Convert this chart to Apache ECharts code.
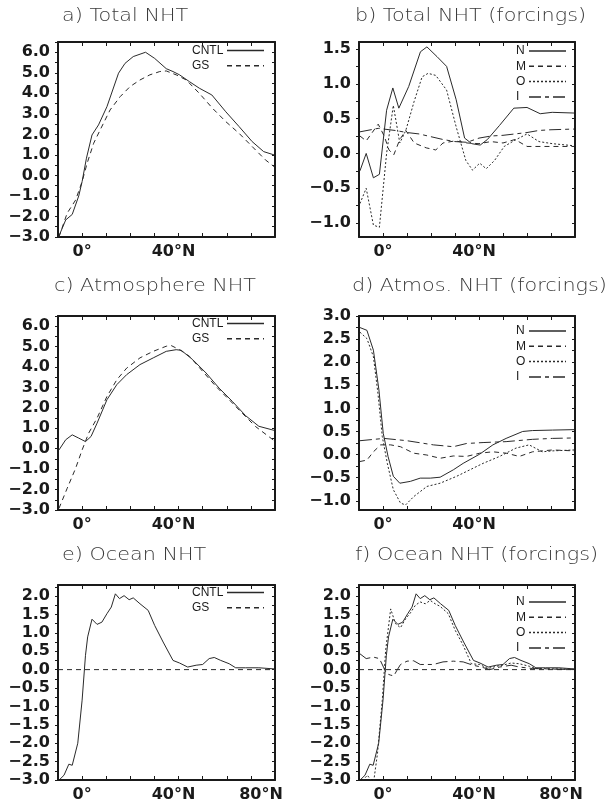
<!DOCTYPE html>
<html><head><meta charset="utf-8">
<script src="https://cdn.jsdelivr.net/npm/echarts@6/dist/echarts.min.js"></script>
<style>html,body{margin:0;padding:0;background:#fff}#c{width:615px;height:806px}</style>
</head><body><div id="c"></div>
<script>
// ---------- tick values / labels ----------
const xTickVals = [-10,0,10,20,30,40,50,60,70,80];
const xLabelsUpper = [0,40];
const xLabelsLower = [0,40,80];
const yLabelsAC = [-3,-2,-1,0,1,2,3,4,5,6];
const yTicksAC = [-3,-2.5,-2,-1.5,-1,-0.5,0,0.5,1,1.5,2,2.5,3,3.5,4,4.5,5,5.5,6,6.5];
const yLabelsB = [-1,-0.5,0,0.5,1,1.5];
const yTicksB = [-1,-0.75,-0.5,-0.25,0,0.25,0.5,0.75,1,1.25,1.5];
const yLabelsD = [-1,-0.5,0,0.5,1,1.5,2,2.5,3];
const yTicksD = [-1,-0.75,-0.5,-0.25,0,0.25,0.5,0.75,1,1.25,1.5,1.75,2,2.25,2.5,2.75,3];
const yLabelsEF = [-3,-2.5,-2,-1.5,-1,-0.5,0,0.5,1,1.5,2];
const yTicksEF = [-3,-2.75,-2.5,-2.25,-2,-1.75,-1.5,-1.25,-1,-0.75,-0.5,-0.25,0,0.25,0.5,0.75,1,1.25,1.5,1.75,2,2.25];

// ---------- a) Total NHT ----------
const totalCntl = [[-9.6,-2.95],[-6.8,-2.17],[-4.1,-1.9],[-1.4,-1.0],[0,-0.3],[1.8,0.84],[4.1,1.97],[6.8,2.46],[10.3,3.35],[15.1,4.98],[17.8,5.46],[21.2,5.79],[26.3,6.0],[30.1,5.7],[34.9,5.2],[37.7,5.06],[40.4,4.9],[44.5,4.57],[48.6,4.25],[53.8,3.92],[59.6,3.1],[65.1,2.38],[70.5,1.65],[75.3,1.16],[79.6,1.0]];
const totalGs = [[-9.6,-3.0],[-6.2,-1.84],[-2.7,-1.2],[0,-0.3],[2.1,0.6],[4.8,1.57],[7.5,2.22],[11.6,3.19],[15.8,3.84],[19.9,4.33],[24,4.65],[28.1,4.9],[32.2,5.06],[34.9,5.09],[39,4.9],[43.2,4.65],[48.6,4.0],[54.1,3.27],[59.6,2.62],[65.1,2.05],[70.5,1.41],[76,0.76],[79.6,0.43]];

// ---------- b) Total NHT (forcings) ----------
const totalN = [[-9.6,-0.25],[-7,0.0],[-4,-0.35],[-1.5,-0.3],[1.5,0.62],[4.1,0.94],[6.6,0.65],[10.7,0.96],[15.6,1.46],[18.3,1.53],[22.5,1.39],[26.5,1.25],[30.5,0.77],[34,0.22],[37,0.14],[40.5,0.12],[43.5,0.2],[48.5,0.4],[54.5,0.65],[60,0.66],[65.5,0.57],[70.5,0.59],[79.6,0.58]];
const totalM = [[-9.6,0.25],[-7,0.18],[-2,0.42],[0.5,0.25],[2.5,0.05],[4.5,-0.02],[7,0.2],[9.5,0.33],[13,0.15],[18,0.08],[22,0.05],[25,0.15],[30,0.18],[35,0.15],[40,0.14],[45,0.17],[50,0.15],[55,0.2],[60,0.1],[65,0.1],[70,0.1],[79.6,0.1]];
const totalO = [[-9.6,-0.72],[-7,-0.5],[-4,-1.03],[-1.5,-1.06],[1.5,0.0],[4.3,0.69],[7,0.15],[9.5,0.33],[13,0.75],[16.3,1.1],[18.8,1.15],[22,1.12],[26.5,0.91],[30.5,0.38],[34.5,-0.1],[37.3,-0.24],[40.3,-0.14],[43,-0.22],[46.5,-0.1],[50.5,0.1],[55,0.19],[60,0.28],[65,0.17],[70.6,0.14],[79.6,0.11]];
const totalI = [[-9.6,0.31],[-2,0.36],[5,0.33],[10,0.3],[15,0.28],[20,0.24],[25,0.2],[30,0.17],[35,0.16],[40,0.22],[45,0.25],[50,0.26],[55,0.28],[60,0.3],[65,0.33],[70,0.34],[79.6,0.35]];

// ---------- c) Atmosphere NHT ----------
const atmCntl = [[-9.6,-0.06],[-6.8,0.44],[-4.1,0.68],[-1.4,0.52],[1.4,0.35],[3.7,0.6],[6.2,1.25],[10.3,2.4],[14.4,3.14],[18.5,3.63],[24,4.12],[29.5,4.45],[34.9,4.77],[39,4.85],[41.1,4.82],[45.9,4.36],[51.4,3.71],[56.8,2.97],[62.3,2.32],[67.8,1.62],[73.3,1.1],[79.6,0.9]];
const atmGs = [[-9.6,-2.92],[-6.2,-1.94],[-2.7,-0.96],[0,-0.06],[2.7,0.76],[6.2,1.5],[10.3,2.56],[14.4,3.38],[18.5,3.95],[24,4.45],[29.5,4.77],[34.9,5.02],[37,5.05],[40.4,4.85],[44.5,4.53],[50,3.79],[55.5,3.05],[61,2.4],[66.4,1.74],[71.9,1.09],[79.6,0.4]];

// ---------- d) Atmos. NHT (forcings) ----------
const atmN = [[-9.6,2.75],[-6.7,2.69],[-4,2.26],[-1.7,1.4],[0.1,0.46],[2.1,-0.04],[4.3,-0.47],[7,-0.62],[11.4,-0.58],[15.5,-0.51],[19.7,-0.51],[23.8,-0.49],[29.3,-0.33],[33.4,-0.19],[40.3,0.01],[45.8,0.21],[51.3,0.35],[58.2,0.5],[62.3,0.52],[70.6,0.53],[79.6,0.54]];
const atmM = [[-9.6,-0.15],[-6.7,-0.12],[-4,0.06],[-1,0.21],[3.2,0.21],[7.3,0.17],[12.8,0.03],[18.3,-0.01],[23.8,-0.08],[29.3,-0.03],[34.8,-0.04],[40.3,0.03],[45.8,0.06],[51.3,0.03],[56.8,-0.04],[62.3,0.06],[70.6,0.1],[79.6,0.08]];
const atmO = [[-9.6,2.65],[-6.7,2.51],[-4,2.12],[-2.1,1.32],[-0.3,0.39],[1.8,-0.19],[4.3,-0.76],[7.3,-1.05],[9.4,-1.09],[12.8,-0.91],[18.3,-0.69],[23.8,-0.62],[30.7,-0.47],[36.2,-0.33],[41.7,-0.19],[48.6,-0.04],[55.4,0.14],[60.9,0.21],[66.4,0.06],[70.6,0.08],[79.6,0.1]];
const atmI = [[-9.6,0.3],[0.4,0.35],[10,0.3],[21,0.21],[29.3,0.17],[34.8,0.24],[41.7,0.26],[51.3,0.28],[62.3,0.33],[70.6,0.35],[79.6,0.36]];

// ---------- e) Ocean NHT ----------
const ocnCntl = [[-9.2,-2.98],[-7.5,-2.87],[-5.5,-2.57],[-4.1,-2.6],[-1.8,-2.0],[0,-0.83],[1.4,0.39],[2.3,0.89],[4.1,1.37],[6.2,1.23],[8.2,1.29],[10.3,1.52],[12.1,1.7],[13.8,2.06],[15.5,1.93],[17.4,2.01],[19.5,1.9],[21.2,1.95],[24,1.79],[27.4,1.61],[30.1,1.2],[33.6,0.75],[37.7,0.25],[40.4,0.18],[43.8,0.07],[47.3,0.12],[50,0.14],[52.7,0.3],[54.8,0.33],[57.5,0.25],[61,0.16],[63.7,0.05],[67.8,0.05],[73.3,0.05],[79.6,0.02]];
const ocnGs = [[-10,0],[80,0]];

// ---------- f) Ocean NHT (forcings) ----------
const ocnN = ocnCntl;
const ocnM = [[-10,0],[80,0]];
const ocnO = [[-9.6,-3.1],[-6.5,-2.87],[-4,-3.1],[-2.3,-2.28],[-0.3,-0.83],[1.1,0.52],[3.2,1.65],[5.2,1.25],[7.3,1.14],[9.4,1.38],[11.4,1.54],[13.5,1.75],[15.5,1.84],[17.6,1.79],[19.7,1.88],[21.7,1.79],[23.8,1.72],[27.2,1.52],[30,1.08],[33.4,0.66],[36.8,0.16],[40.3,0.14],[43.7,0.03],[47.2,0.09],[49.9,0.12],[53.4,0.18],[56.8,0.16],[61,0.09],[63.7,0.03],[79.6,0.01]];
const ocnI = [[-9.6,0.43],[-7,0.3],[-4,0.34],[-1.5,0.3],[0.2,0.07],[1.5,-0.11],[3.2,-0.15],[4.5,-0.17],[5.8,-0.02],[7.3,0.14],[10,0.23],[12.8,0.24],[15.5,0.14],[21,0.14],[25,0.21],[29.3,0.23],[33.4,0.21],[37.5,0.12],[41,0.07],[44.5,0],[48.6,0.07],[53.4,0.12],[56.8,0.07],[62.3,0.03],[79.6,0]];

// ---------- styling / layout ----------
const LINE_TYPES = { solid: 'solid', dashed: [5, 4], dotted: [2, 2], dashdot: [12, 4, 4, 4] };
const INK = '#1a1a1a';
const AX_FONT = 'DejaVu Sans';

const panels = [
  { title: 'a) Total NHT', tx: 62, ty: 17, grid: { left: 58, top: 42, width: 217, height: 195 }, yr: [-3, 6.5],
    yl: yLabelsAC, yt: yTicksAC, xl: xLabelsUpper,
    s: [['CNTL', totalCntl, 'solid'], ['GS', totalGs, 'dashed']], lg: { left: 192, top: 44.5, tw: 30, iw: 37 } },
  { title: 'b) Total NHT (forcings)', tx: 355, ty: 17, grid: { left: 359, top: 42, width: 216, height: 195 }, yr: [-1.2, 1.6],
    yl: yLabelsB, yt: yTicksB, xl: xLabelsUpper,
    s: [['N', totalN, 'solid'], ['M', totalM, 'dashed'], ['O', totalO, 'dotted'], ['I', totalI, 'dashdot']], lg: { left: 516, top: 45, tw: 8, iw: 37 } },
  { title: 'c) Atmosphere NHT', tx: 54, ty: 287, grid: { left: 58, top: 316, width: 217, height: 194 }, yr: [-3, 6.5],
    yl: yLabelsAC, yt: yTicksAC, xl: xLabelsUpper,
    s: [['CNTL', atmCntl, 'solid'], ['GS', atmGs, 'dashed']], lg: { left: 192, top: 317.5, tw: 30, iw: 37 } },
  { title: 'd) Atmos. NHT (forcings)', tx: 352, ty: 287, grid: { left: 359, top: 316, width: 216, height: 194 }, yr: [-1.2, 3.0],
    yl: yLabelsD, yt: yTicksD, xl: xLabelsUpper,
    s: [['N', atmN, 'solid'], ['M', atmM, 'dashed'], ['O', atmO, 'dotted'], ['I', atmI, 'dashdot']], lg: { left: 516, top: 325, tw: 8, iw: 37 } },
  { title: 'e) Ocean NHT', tx: 62, ty: 556, grid: { left: 58, top: 585, width: 217, height: 195 }, yr: [-3, 2.3],
    yl: yLabelsEF, yt: yTicksEF, xl: xLabelsLower,
    s: [['CNTL', ocnCntl, 'solid'], ['GS', ocnGs, 'dashed']], lg: { left: 192, top: 586.5, tw: 30, iw: 37 } },
  { title: 'f) Ocean NHT (forcings)', tx: 355, ty: 556, grid: { left: 359, top: 585, width: 216, height: 195 }, yr: [-3, 2.3],
    yl: yLabelsEF, yt: yTicksEF, xl: xLabelsLower,
    s: [['N', ocnN, 'solid'], ['M', ocnM, 'dashed'], ['O', ocnO, 'dotted'], ['I', ocnI, 'dashdot']], lg: { left: 516, top: 596, tw: 8, iw: 37 } }
];

function fmtY(v) {
  const a = Math.abs(v).toFixed(1);
  return (v < -1e-9 ? '\u2212' : '') + a;
}
function fmtX(v) {
  if (v === 0) return '{c|0\u00B0}';
  if (v === 40) return '{m|40\u00B0N}';
  if (v === 80) return '{r|80\u00B0N}';
  return '';
}
const axLabelStyle = { fontFamily: AX_FONT, fontWeight: 'bold', fontSize: 16, color: INK };

const option = { animation: false, backgroundColor: '#fff', grid: [], xAxis: [], yAxis: [], series: [], legend: [], graphic: [] };

panels.forEach((p, i) => {
  option.grid.push(Object.assign({ containLabel: false, show: false }, p.grid));
  const axLine = { show: true, onZero: false, lineStyle: { color: INK, width: 2 } };
  // bottom x
  option.xAxis.push({ type: 'value', gridIndex: i, position: 'bottom', min: -10, max: 80, interval: 10,
    axisLine: axLine, splitLine: { show: false },
    axisTick: { show: true, inside: true, length: 4, lineStyle: { color: INK, width: 1 } },
    axisLabel: { show: true, margin: 7, customValues: p.xl, formatter: fmtX,
      rich: { c: axLabelStyle, m: Object.assign({ padding: [0, 10, 0, 0] }, axLabelStyle), r: Object.assign({ padding: [0, 28, 0, 0] }, axLabelStyle) } } });
  // top x
  option.xAxis.push({ type: 'value', gridIndex: i, position: 'top', min: -10, max: 80, interval: 10,
    axisLine: axLine, splitLine: { show: false },
    axisTick: { show: true, inside: true, length: 4, lineStyle: { color: INK, width: 1 } },
    axisLabel: { show: false } });
  // left y
  option.yAxis.push({ type: 'value', gridIndex: i, position: 'left', min: p.yr[0], max: p.yr[1],
    axisLine: axLine, splitLine: { show: false },
    axisTick: { show: true, inside: false, length: 3, customValues: p.yt, lineStyle: { color: INK, width: 1 } },
    axisLabel: Object.assign({ show: true, margin: 8, customValues: p.yl, formatter: fmtY }, axLabelStyle) });
  // right y
  option.yAxis.push({ type: 'value', gridIndex: i, position: 'right', min: p.yr[0], max: p.yr[1],
    axisLine: axLine, splitLine: { show: false },
    axisTick: { show: true, inside: true, length: 3, customValues: p.yt, lineStyle: { color: INK, width: 1 } },
    axisLabel: { show: false } });

  p.s.forEach(([name, data, type]) => {
    option.series.push({ type: 'line', name, xAxisIndex: 2 * i, yAxisIndex: 2 * i, data,
      symbol: 'none', showSymbol: false, clip: true, silent: true,
      lineStyle: { color: '#2a2a2a', width: 1, type: LINE_TYPES[type] }, itemStyle: { color: '#2a2a2a' } });
  });

  option.legend.push({ show: true, left: p.lg.left, top: p.lg.top, orient: 'vertical', align: 'right',
    padding: 0, itemGap: 3.3, itemWidth: p.lg.iw, itemHeight: 10, selectedMode: false,
    data: p.s.map(s => s[0]),
    itemStyle: { color: 'rgba(0,0,0,0)', borderWidth: 0, opacity: 0 },
    lineStyle: { width: 1.5, opacity: 1 },
    formatter: n => '{t|' + n + '}',
    textStyle: { rich: { t: { width: p.lg.tw, align: 'left', fontSize: 12, lineHeight: 11, fontFamily: 'Liberation Sans', color: INK } } } });

  option.graphic.push({ type: 'text', x: p.tx, y: p.ty, scaleX: 1.22, silent: true,
    style: { text: p.title, font: '200 17px "DejaVu Sans"', fill: '#3a3a3a', align: 'left', verticalAlign: 'middle' } });
});

const chart = echarts.init(document.getElementById('c'), null, { renderer: 'canvas' });
chart.setOption(option);
</script>
</body></html>
